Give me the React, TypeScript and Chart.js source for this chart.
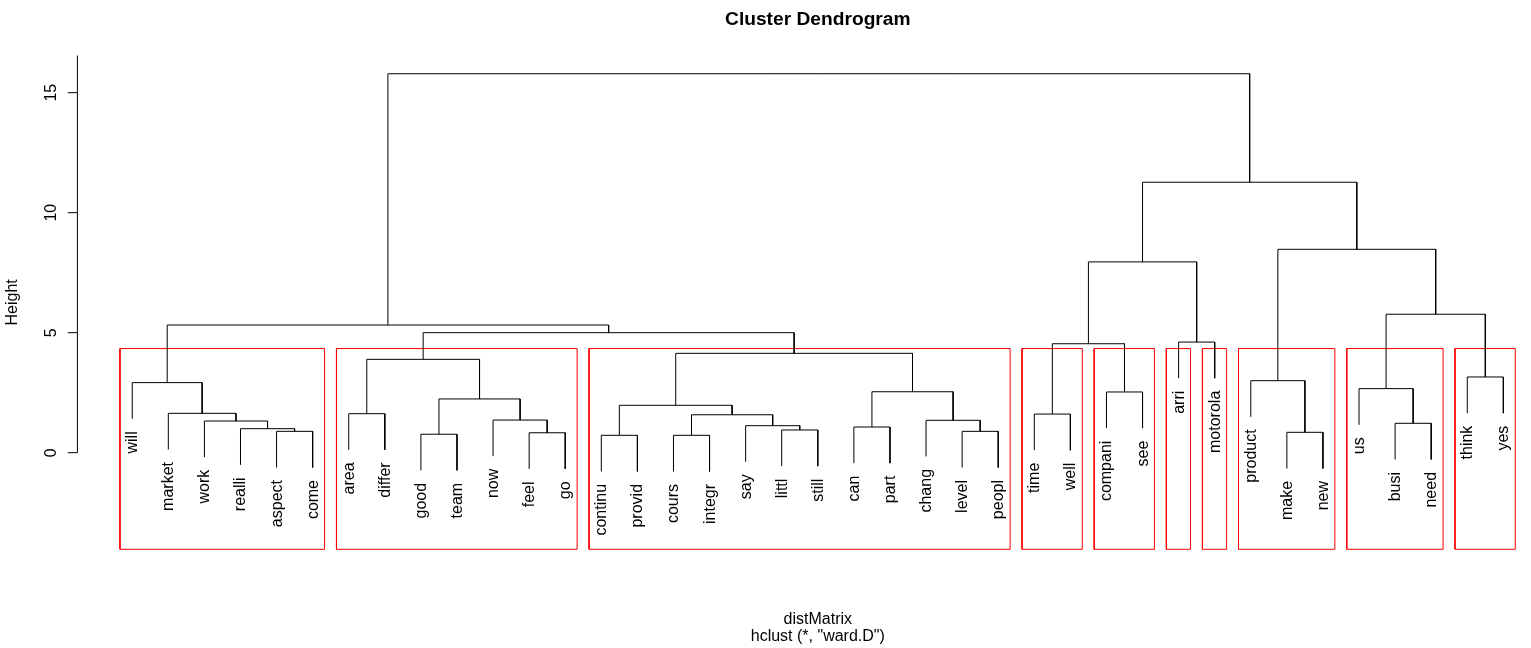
import { useEffect, useRef } from "react";
import { Chart, registerables } from "chart.js";

Chart.register(...registerables);

// ---- Data ----
const leafLabels = [
  "will", "market", "work", "realli", "aspect", "come",
  "area", "differ", "good", "team", "now", "feel", "go",
  "continu", "provid", "cours", "integr", "say", "littl", "still",
  "can", "part", "chang", "level", "peopl",
  "time", "well", "compani", "see", "arri", "motorola",
  "product", "make", "new", "us", "busi", "need", "think", "yes",
];

// hclust-style merge matrix: negative = leaf (1-based position in leafLabels), positive = earlier merge (1-based)
const mergeLeft = [
  -14, -16, -9, -12, -33, -5, -24, -19, -4, -21,
  -18, -36, -3, -23, -11, 2, -26, -7, -2, 1,
  3, -28, 10, -35, -1, -32, -38, 18, 20, 17,
  -30, 28, 25, 24, 30, 26, 35, 33,
];
const mergeRight = [
  -15, -17, -10, -13, -34, -6, -25, -20, 6, -22,
  8, -37, 9, 7, 4, 11, -27, -8, 13, 16,
  15, -29, 14, 12, 19, 5, -39, 21, 23, 22,
  -31, 29, 32, 27, 31, 34, 36, 37,
];
const mergeHeights = [
  0.725, 0.725, 0.77, 0.83, 0.85, 0.89, 0.89, 0.946, 1.0, 1.07,
  1.125, 1.225, 1.32, 1.35, 1.36, 1.58, 1.61, 1.625, 1.64, 1.975,
  2.24, 2.53, 2.54, 2.67, 2.92, 3.0, 3.155, 3.89, 4.14, 4.54,
  4.61, 5.0, 5.32, 5.77, 7.95, 8.475, 11.27, 15.79,
];

const yTicks = [0, 5, 10, 15];
const clusterCount = 10;
const hangFraction = 0.1;

const titleText = "Cluster Dendrogram";
const xLabelText = "distMatrix";
const subText = 'hclust (*, "ward.D")';
const yLabelText = "Height";

// axis ranges (R usr coordinates)
const X_MIN = -0.52;
const X_MAX = 40.52;
const Y_MIN = -4.025;
const Y_MAX = 16.55;

const FONT = '"Liberation Sans", Arial, Helvetica, sans-serif';
const CANVAS_W = 1640;
const CANVAS_H = 648;

export default function App() {
  const canvasRef = useRef<HTMLCanvasElement | null>(null);

  useEffect(() => {
    const canvas = canvasRef.current;
    if (!canvas) return;

    const nMerge = mergeHeights.length;
    const hMax = Math.max(...mergeHeights);
    const hMin = Math.min(...mergeHeights);
    const hang = hangFraction * (hMax - hMin);

    const nodeX: number[] = new Array(nMerge).fill(0);
    const leafBottom: number[] = new Array(leafLabels.length + 1).fill(0);
    const dendroSets: any[] = [];

    for (let i = 0; i < nMerge; i++) {
      const h = mergeHeights[i];
      const pos = (c: number) => {
        if (c < 0) {
          leafBottom[-c] = h - hang;
          return { x: -c, y: h - hang };
        }
        return { x: nodeX[c - 1], y: mergeHeights[c - 1] };
      };
      const l = pos(mergeLeft[i]);
      const r = pos(mergeRight[i]);
      nodeX[i] = (l.x + r.x) / 2;
      dendroSets.push({
        data: [
          { x: l.x, y: l.y },
          { x: l.x, y: h },
          { x: r.x, y: h },
          { x: r.x, y: r.y },
        ],
        showLine: true,
        borderColor: "#000000",
        borderWidth: 1,
        pointRadius: 0,
        pointHoverRadius: 0,
        fill: false,
        tension: 0,
        clip: false,
      });
    }

    // cut tree into clusterCount groups (left-to-right order)
    const heightOf = (c: number) => (c < 0 ? -Infinity : mergeHeights[c - 1]);
    let groups: number[] = [nMerge];
    while (groups.length < clusterCount) {
      let best = 0;
      for (let g = 1; g < groups.length; g++) if (heightOf(groups[g]) > heightOf(groups[best])) best = g;
      const id = groups[best];
      groups.splice(best, 1, mergeLeft[id - 1], mergeRight[id - 1]);
    }
    const leavesOf = (c: number): number[] =>
      c < 0 ? [-c] : [...leavesOf(mergeLeft[c - 1]), ...leavesOf(mergeRight[c - 1])];
    const sortedDesc = [...mergeHeights].sort((a, b) => b - a);
    const boxTop = (sortedDesc[clusterCount - 2] + sortedDesc[clusterCount - 1]) / 2;

    const boxSets = groups.map((g) => {
      const lv = leavesOf(g);
      const first = Math.min(...lv);
      const last = Math.max(...lv);
      const xl = first - 0.34;
      const xr = last + 0.33;
      return {
        data: [
          { x: xl, y: Y_MIN },
          { x: xr, y: Y_MIN },
          { x: xr, y: boxTop },
          { x: xl, y: boxTop },
          { x: xl, y: Y_MIN },
        ],
        showLine: true,
        borderColor: "#ff0000",
        borderWidth: 1,
        pointRadius: 0,
        pointHoverRadius: 0,
        fill: false,
        tension: 0,
        clip: false,
      };
    });

    const textPlugin = {
      id: "rText",
      afterDraw(chart: any) {
        const { ctx, chartArea, scales } = chart;
        const xs = scales.x;
        const ys = scales.y;
        ctx.save();
        ctx.fillStyle = "#000000";
        ctx.strokeStyle = "#000000";
        ctx.lineWidth = 1;

        // y axis
        const ax = chartArea.left;
        ctx.beginPath();
        ctx.moveTo(ax, ys.getPixelForValue(yTicks[0]));
        ctx.lineTo(ax, chartArea.top);
        ctx.stroke();
        ctx.font = `16px ${FONT}`;
        for (const t of yTicks) {
          const py = ys.getPixelForValue(t);
          ctx.beginPath();
          ctx.moveTo(ax - 9.6, py);
          ctx.lineTo(ax, py);
          ctx.stroke();
          ctx.save();
          ctx.translate(ax - 21.8, py);
          ctx.rotate(-Math.PI / 2);
          ctx.textAlign = "center";
          ctx.textBaseline = "alphabetic";
          ctx.fillText(String(t), 0, 0);
          ctx.restore();
        }

        // y label
        ctx.save();
        ctx.translate(17, (chartArea.top + chartArea.bottom) / 2);
        ctx.rotate(-Math.PI / 2);
        ctx.textAlign = "center";
        ctx.textBaseline = "alphabetic";
        ctx.fillText(yLabelText, 0, 0);
        ctx.restore();

        // leaf labels
        for (let i = 1; i <= leafLabels.length; i++) {
          const px = xs.getPixelForValue(i);
          const py = ys.getPixelForValue(leafBottom[i]);
          ctx.save();
          ctx.translate(px + 5, py + 12.5);
          ctx.rotate(-Math.PI / 2);
          ctx.textAlign = "right";
          ctx.textBaseline = "alphabetic";
          ctx.fillText(leafLabels[i - 1], 0, 0);
          ctx.restore();
        }

        const cx = (chartArea.left + chartArea.right) / 2;
        ctx.textAlign = "center";
        ctx.textBaseline = "alphabetic";
        ctx.fillText(xLabelText, cx, 624);
        ctx.fillText(subText, cx, 641);
        ctx.font = `bold 19.2px ${FONT}`;
        ctx.fillText(titleText, cx, 24.5);
        ctx.restore();
      },
    };

    const chart = new Chart(canvas, {
      type: "scatter",
      data: { datasets: [...dendroSets, ...boxSets] },
      options: {
        animation: false,
        responsive: false,
        devicePixelRatio: 1,
        layout: {
          padding: { left: 77.4, right: CANVAS_W - 1558.2, top: 55.5, bottom: CANVAS_H - 549.3 },
        },
        scales: {
          x: { type: "linear", display: false, min: X_MIN, max: X_MAX },
          y: { type: "linear", display: false, min: Y_MIN, max: Y_MAX },
        },
        plugins: {
          legend: { display: false },
          tooltip: { enabled: false },
        },
        events: [],
      },
      plugins: [textPlugin],
    });

    return () => chart.destroy();
  }, []);

  return (
    <div
      style={{
        position: "fixed",
        left: 0,
        top: 0,
        width: 1531,
        height: 648,
        overflow: "hidden",
        background: "#ffffff",
      }}
    >
      <canvas
        ref={canvasRef}
        width={CANVAS_W}
        height={CANVAS_H}
        style={{ display: "block", width: CANVAS_W, height: CANVAS_H }}
      />
    </div>
  );
}
